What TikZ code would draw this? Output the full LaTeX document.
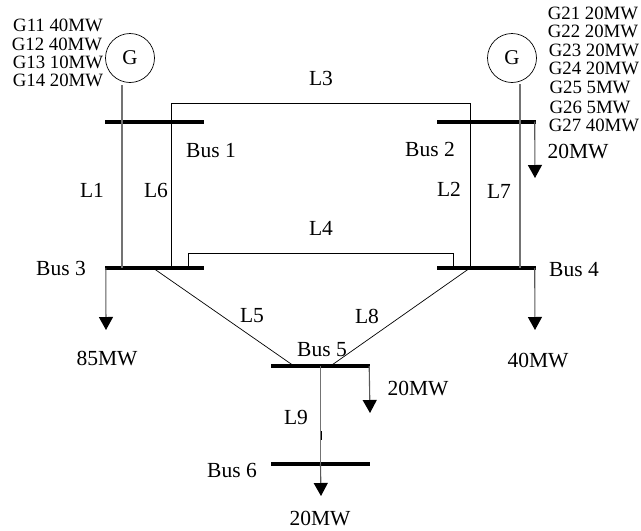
\documentclass[tikz,border=0pt]{standalone}
\usepackage{fontspec}
\setmainfont{Liberation Serif}
\usetikzlibrary{arrows.meta, positioning}
\tikzset{
  busbar/.style={fill=black, inner sep=0pt, minimum width=99pt, minimum height=4pt},
  gen/.style={draw, circle, line width=0.7pt, inner sep=0pt, minimum size=49pt, font=\fontsize{21}{23}\selectfont},
  line/.style={line width=0.7pt, black},
  feeder/.style={line width=1.1pt, black!55},
  load/.style={-{Triangle[width=14pt,length=13pt,color=black]}, line width=1.1pt, black!65},
  lbl/.style={inner sep=0pt, font=\fontsize{21.5}{23}\selectfont},
  glbl/.style={inner sep=0pt, font=\fontsize{18.8}{20}\selectfont}
}
\begin{document}
\begin{tikzpicture}[x=1pt, y=-1pt]
  \useasboundingbox (0,0) rectangle (641,531);
  % Buses
  \node[busbar] (bus1) at (154.5,121.5) {};
  \node[busbar] (bus2) at (486,121.5) {};
  \node[busbar] (bus3) at (154.5,268) {};
  \node[busbar] (bus4) at (486,268) {};
  \node[busbar] (bus5) at (320.5,366) {};
  \node[busbar] (bus6) at (320.5,464) {};
  % Generators
  \node[gen] (gone) at (130,58) {G};
  \node[gen] (gtwo) at (512,58) {G};
  \coordinate (gonefoot) at (122,85);
  \coordinate (gtwofoot) at (520,84);
  % Load ends
  \coordinate (loadb) at (535,178);
  \coordinate (loadc) at (106,330);
  \coordinate (loadd) at (535,330);
  \coordinate (loade) at (370,413);
  \coordinate (loadf) at (321,496);
  \coordinate (joina) at (321,431);
  \coordinate (joinb) at (321,440);
  % Lines
  \draw[feeder] (gonefoot) -- ([xshift=-32.5pt]bus3.center);
  \draw[feeder] (gtwofoot) -- ([xshift=34pt]bus4.center);
  \draw[line] ([xshift=17pt]bus3.center) -- ++(0,-165) -| ([xshift=-16pt]bus4.center);
  \draw[line] ([xshift=33.5pt]bus3.center) -- ++(0,-15) -| ([xshift=-32.5pt]bus4.center);
  \draw[line] ([xshift=-1.5pt]bus3.center) -- ([xshift=-26.5pt]bus5.center);
  \draw[line] ([xshift=-16pt]bus4.center) -- ([xshift=10pt]bus5.center);
  \draw[feeder] (bus5.center) -- (bus6.center);
  \draw[line] (joina) -- (joinb);
  % Loads
  \draw[load] (bus2.east) ++(-1,0) -- (loadb);
  \draw[load] (bus3.west) ++(1,0) -- (loadc);
  \draw[load] (bus4.east) ++(-1,0) -- (loadd);
  \draw[load] (bus5.east) ++(-1,0) -- (loade);
  \draw[load] (bus6.center) -- (loadf);
  % Bus labels
  \node[lbl] (lbusa) at (211,151) {Bus 1};
  \node[lbl] (lbusb) at (430,149) {Bus 2};
  \node[lbl] (lbusc) at (61,268) {Bus 3};
  \node[lbl] (lbusd) at (574,270) {Bus 4};
  \node[lbl] (lbuse) at (322,350) {Bus 5};
  \node[lbl] (lbusf) at (232,470) {Bus 6};
  % Line labels
  \node[lbl] (la) at (92,190) {L1};
  \node[lbl] (lb) at (449,189) {L2};
  \node[lbl] (lc) at (321,78) {L3};
  \node[lbl] (ld) at (321,228) {L4};
  \node[lbl] (le) at (252,316) {L5};
  \node[lbl] (lf) at (156,190) {L6};
  \node[lbl] (lg) at (499,191) {L7};
  \node[lbl] (lh) at (367,316) {L8};
  \node[lbl] (li) at (296,417) {L9};
  % Load labels
  \node[lbl] (mwb) at (578,152) {20MW};
  \node[lbl] (mwc) at (107,359) {85MW};
  \node[lbl] (mwd) at (538,361) {40MW};
  \node[lbl] (mwe) at (418,389) {20MW};
  \node[lbl] (mwf) at (320,519) {20MW};
  % Generator units
  \node[glbl] (ga) at (58,25) {G11 40MW};
  \node[glbl] (gb) at (57,44) {G12 40MW};
  \node[glbl] (gc) at (58,62) {G13 10MW};
  \node[glbl] (gd) at (58,80) {G14 20MW};
  \node[glbl] (gu) at (593,13) {G21 20MW};
  \node[glbl] (gv) at (593,31) {G22 20MW};
  \node[glbl] (gw) at (594,50) {G23 20MW};
  \node[glbl] (gx) at (594,68) {G24 20MW};
  \node[glbl] (gy) at (590,87) {G25 5MW};
  \node[glbl] (gz) at (590,107) {G26 5MW};
  \node[glbl] (gzz) at (594,125) {G27 40MW};
\end{tikzpicture}
\end{document}
